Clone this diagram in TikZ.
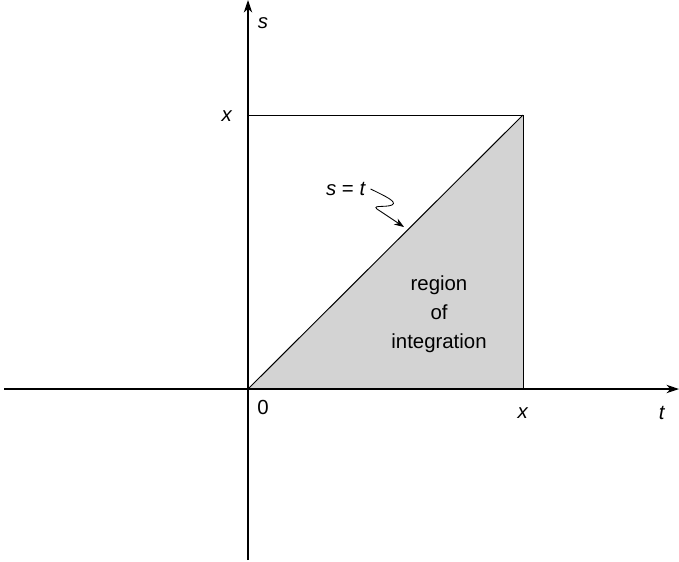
\documentclass[tikz,border=0pt]{standalone}
\usepackage{fontspec}
\setmainfont{Liberation Sans}
\usepackage{xcolor}
\definecolor{regiongray}{RGB}{211, 211, 211}
\usetikzlibrary{arrows.meta, positioning, calc}

\begin{document}
\begin{tikzpicture}[x=0.025cm, y=-0.025cm]
  \tikzstyle{axis} = [line width=0.8pt, -{Stealth[length=9pt, width=6pt]}]
  \tikzstyle{edge} = [line width=0.7pt]
  \tikzstyle{lbl} = [font=\fontsize{14.5}{20.5}\selectfont, inner sep=1pt]

  \useasboundingbox (0,0) rectangle (679,561);

  \coordinate (origin) at (248,389);
  \coordinate (corner) at (523,115);
  \coordinate (xfoot) at (523,389);
  \coordinate (stop) at (248,115);

  % shaded region
  \fill [regiongray] (origin) -- (corner) -- (xfoot) -- cycle;

  % axes
  \draw [axis] (4,389) -- (679,389);
  \draw [axis] (248,560) -- (248,0);

  % square and diagonal
  \draw [edge] (stop) -- (corner) -- (xfoot);
  \draw [edge] (origin) -- (corner);

  \node [lbl] (slabel) at (263,23) {\textit{s}};
  \node [lbl] (xtop) at (227,116) {\textit{x}};
  \node [lbl] (zero) at (263,407) {0};
  \node [lbl] (xright) at (523,413) {\textit{x}};
  \node [lbl] (tlabel) at (662,413) {\textit{t}};
  \node [lbl] (diag) at (346,189) {\textit{s} = \textit{t}};
  \node [lbl, align=center] (region) at (439,314) {region\\ of\\ integration};

  \coordinate (diagpt) at (404,227);
  \draw [line width=0.6pt, -{Stealth[length=7pt, width=5pt]}] (diag.east) ++(3,0)
    .. controls (385,196) and (398,202) .. (392,205)
    .. controls (385,208) and (368,204) .. (380,211)
    -- (diagpt);
\end{tikzpicture}
\end{document}
